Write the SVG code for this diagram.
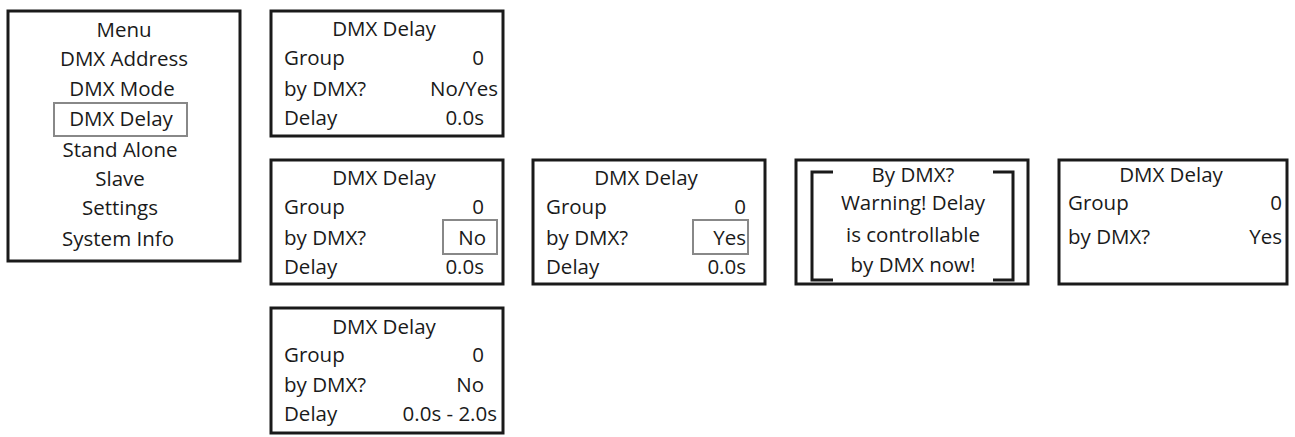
<svg xmlns="http://www.w3.org/2000/svg" width="1295" height="437" viewBox="0 0 1295 437">
<style>
.b{fill:#fff;stroke:#1a1a1a;stroke-width:3}
.h{fill:none;stroke:#888;stroke-width:2}
text{font-family:"Open Sans","Liberation Sans",sans-serif;font-size:20.5px;fill:#1a1a1a}
.c{text-anchor:middle}.r{text-anchor:end}
.k{fill:none;stroke:#1a1a1a;stroke-width:3}
</style>
<rect width="1295" height="437" fill="#fff"/>
<g id="menu"><rect class="b" x="8" y="11" width="232" height="250"/>
<rect class="h" x="54" y="103" width="133" height="33"/>
<text class="c" x="124" y="37">Menu</text><text class="c" x="124" y="66">DMX Address</text><text class="c" x="122" y="96">DMX Mode</text><text class="c" x="121" y="126">DMX Delay</text><text class="c" x="120" y="157">Stand Alone</text><text class="c" x="120" y="186">Slave</text><text class="c" x="120" y="215">Settings</text><text class="c" x="118" y="246">System Info</text></g>
<g id="box1"><rect class="b" x="271" y="11" width="232" height="125"/>
<text class="c" x="384" y="36">DMX Delay</text><text x="284" y="65">Group</text><text class="r" x="484" y="65">0</text><text x="284" y="96">by DMX?</text><text class="r" x="498" y="96">No/Yes</text><text x="284" y="125">Delay</text><text class="r" x="484" y="125">0.0s</text></g>
<g id="box2"><rect class="b" x="271" y="160" width="232" height="124"/>
<rect class="h" x="443" y="220" width="54" height="34"/>
<text class="c" x="384" y="185">DMX Delay</text><text x="284" y="214">Group</text><text class="r" x="484" y="214">0</text><text x="284" y="245">by DMX?</text><text class="r" x="486" y="245">No</text><text x="284" y="274">Delay</text><text class="r" x="484" y="274">0.0s</text></g>
<g id="box3"><rect class="b" x="533" y="160" width="232" height="124"/>
<rect class="h" x="693" y="220" width="55" height="34"/>
<text class="c" x="646" y="185">DMX Delay</text><text x="546" y="214">Group</text><text class="r" x="746" y="214">0</text><text x="546" y="245">by DMX?</text><text class="r" x="746" y="245">Yes</text><text x="546" y="274">Delay</text><text class="r" x="746" y="274">0.0s</text></g>
<g id="box4"><rect class="b" x="796" y="160" width="232" height="124"/>
<path class="k" d="M833 172H812V280H833M993 172H1013V280H993"/>
<text class="c" x="913" y="182">By DMX?</text><text class="c" x="913" y="210">Warning! Delay</text><text class="c" x="913" y="242">is controllable</text><text class="c" x="913" y="272">by DMX now!</text></g>
<g id="box5"><rect class="b" x="1059" y="160" width="228" height="124"/>
<text class="c" x="1171" y="182">DMX Delay</text><text x="1068" y="210">Group</text><text class="r" x="1282" y="210">0</text><text x="1068" y="244">by DMX?</text><text class="r" x="1282" y="244">Yes</text></g>
<g id="box6"><rect class="b" x="271" y="308" width="232" height="125"/>
<text class="c" x="384" y="334">DMX Delay</text><text x="284" y="362">Group</text><text class="r" x="484" y="362">0</text><text x="284" y="392">by DMX?</text><text class="r" x="484" y="392">No</text><text x="284" y="421">Delay</text><text class="r" x="497" y="421">0.0s - 2.0s</text></g>
<g id="connectors"/>
</svg>
